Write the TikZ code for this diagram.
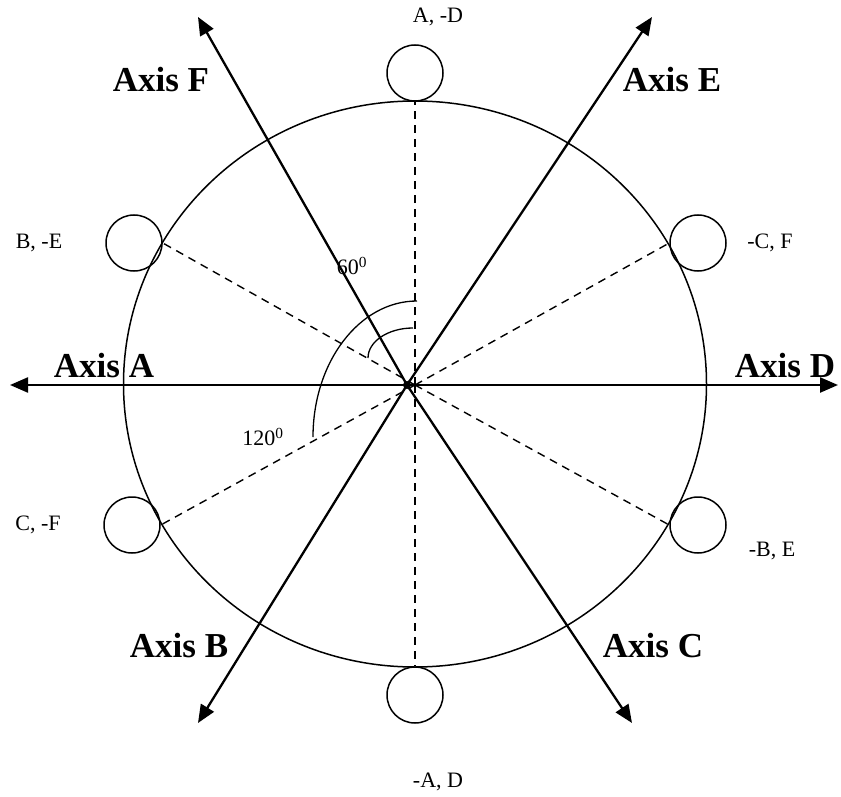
\documentclass[tikz,border=0pt]{standalone}
\usepackage{fontspec}
\setmainfont{Liberation Serif}
\usetikzlibrary{arrows.meta}
\tikzset{
  axis/.style={line width=2.3pt, -{Triangle[length=18pt,width=15pt]}},
  guide/.style={line width=1.4pt, dash pattern=on 8pt off 6pt},
  rim/.style={line width=1.5pt},
  pole/.style={circle, draw, line width=1.5pt, minimum size=56pt, inner sep=0pt},
  axlabel/.style={inner sep=0pt, font=\bfseries\fontsize{35}{40}\selectfont},
  plabel/.style={inner sep=0pt, font=\fontsize{22}{26}\selectfont},
  ang/.style={line width=1.3pt}
}
\begin{document}
\begin{tikzpicture}[x=1pt,y=-1pt]
  \useasboundingbox (0,0) rectangle (841,797);
  % centres of the axes and of the guides
  \coordinate (o) at (407,385);
  \coordinate (m) at (415,385);
  % axis tips
  \coordinate (tA) at (10,385);
  \coordinate (tD) at (838,385);
  \coordinate (tE) at (652,17);
  \coordinate (tF) at (198,17);
  \coordinate (tB) at (198,723);
  \coordinate (tC) at (632,723);

  \draw[rim] (415,384) ellipse [x radius=291.5, y radius=283];

  % small circles
  \node[pole] (pAmD) at (415,73) {};
  \node[pole] (pmAD) at (415,695) {};
  \node[pole] (pBmE) at (134,243) {};
  \node[pole] (pmCF) at (698,243) {};
  \node[pole] (pCmF) at (132,525) {};
  \node[pole] (pmBE) at (698,525) {};

  \draw[guide] (m) -- (pAmD.south);
  \draw[guide] (m) -- (pmAD.north);
  \draw[guide] (m) -- (pBmE.east);
  \draw[guide] (m) -- (pCmF.east);
  \draw[guide] (m) -- (pmCF.west);
  \draw[guide] (m) -- (pmBE.west);

  \foreach \t in {tA,tB,tC,tD,tE,tF}
    \draw[axis] (o) -- (\t);

  % angle marks
  \draw[ang] (417,301) arc[start angle=-90, end angle=-180, x radius=104, y radius=136];
  \draw[ang] (413,328) arc[start angle=-90, end angle=-180, x radius=45, y radius=30];
  \fill (o) circle[radius=4];

  \node[axlabel] (lA) at (104,366) {Axis A};
  \node[axlabel] (lD) at (785,366) {Axis D};
  \node[axlabel] (lE) at (672,80) {Axis E};
  \node[axlabel] (lF) at (161,80) {Axis F};
  \node[axlabel] (lB) at (179,646) {Axis B};
  \node[axlabel] (lC) at (653,646) {Axis C};

  \node[plabel] (qAmD) at (438,17) {A, -D};
  \node[plabel] (qmAD) at (438,782) {-A, D};
  \node[plabel] (qBmE) at (39,243) {B, -E};
  \node[plabel] (qmCF) at (770,243) {-C, F};
  \node[plabel] (qCmF) at (38,525) {C, -F};
  \node[plabel] (qmBE) at (772,551) {-B, E};
  \node[plabel] (a60) at (352,266) {60\textsuperscript{0}};
  \node[plabel] (a120) at (263,437) {120\textsuperscript{0}};
\end{tikzpicture}
\end{document}
